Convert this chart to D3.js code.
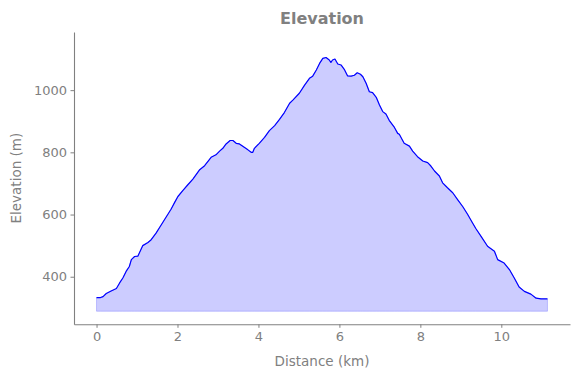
<!DOCTYPE html>
<html>
<head>
<meta charset="utf-8">
<script src="https://cdn.jsdelivr.net/npm/d3@7"></script>
<style>
  html, body { margin: 0; padding: 0; background: #fff; }
  svg { display: block; }
  text { font-family: "DejaVu Sans", sans-serif; }
</style>
</head>
<body>
<svg id="chart" width="580" height="378"></svg>
<script>
const distances = [0.00,0.10,0.16,0.24,0.36,0.49,0.57,0.65,0.73,0.81,0.86,0.94,1.02,1.14,1.27,1.35,1.47,1.60,1.72,1.84,1.93,2.01,2.13,2.25,2.38,2.54,2.67,2.83,2.95,3.04,3.12,3.20,3.30,3.37,3.45,3.53,3.65,3.74,3.82,3.86,3.90,4.02,4.15,4.27,4.40,4.52,4.64,4.77,4.85,5.01,5.14,5.26,5.34,5.43,5.51,5.59,5.67,5.75,5.79,5.83,5.89,5.96,6.04,6.12,6.20,6.29,6.37,6.44,6.52,6.58,6.66,6.74,6.82,6.91,6.99,7.07,7.15,7.23,7.36,7.44,7.48,7.60,7.73,7.81,7.93,8.06,8.18,8.26,8.35,8.47,8.55,8.67,8.80,8.92,9.05,9.17,9.29,9.37,9.50,9.66,9.83,9.91,10.07,10.20,10.32,10.44,10.57,10.73,10.86,10.98,11.14];
const elevations = [333,333,336,346,354,362,380,396,417,433,455,465,466,500,510,519,540,567,592,617,639,658,677,695,714,743,757,784,792,804,813,827,838,838,829,827,816,808,800,800,813,829,848,870,886,906,928,958,968,990,1016,1038,1045,1065,1086,1102,1105,1097,1089,1097,1100,1084,1081,1067,1046,1045,1048,1056,1051,1043,1022,995,992,977,952,931,923,903,880,861,858,829,820,804,786,772,767,756,740,724,702,686,670,648,625,600,573,555,530,498,482,455,444,423,396,367,353,344,331,329,329];
const fillBase = 289;
const xTicks = [0, 2, 4, 6, 8, 10];
const yTicks = [400, 600, 800, 1000];
const titleText = "Elevation";
const xLabel = "Distance (km)";
const yLabel = "Elevation (m)";

const data = distances.map((d, i) => ({ d, e: elevations[i] }));

const mLeft = 74, mRight = 570, mTop = 32, mBottom = 324.3;
const svg = d3.select("#chart");

const x = d3.scaleLinear().domain([-0.557, 11.697]).range([mLeft, mRight]);
const y = d3.scaleLinear().domain([247, 1187]).range([mBottom, mTop]);

const area = d3.area().x(p => x(p.d)).y0(y(fillBase)).y1(p => y(p.e));
const line = d3.line().x(p => x(p.d)).y(p => y(p.e));

svg.append("path").datum(data)
  .attr("d", area)
  .attr("fill", "rgba(0,0,255,0.2)")
  .attr("stroke", "rgba(0,0,255,0.2)")
  .attr("stroke-width", 1);

svg.append("path").datum(data)
  .attr("d", line)
  .attr("fill", "none")
  .attr("stroke", "#0000ff")
  .attr("stroke-width", 1.2)
  .attr("stroke-linejoin", "round");

const axisColor = "#808080";

const xAxis = svg.append("g")
  .attr("transform", `translate(0,${mBottom})`)
  .call(d3.axisBottom(x).tickValues(xTicks).tickFormat(d3.format("d")).tickSize(3.5).tickPadding(3.5).tickSizeOuter(0));
const yAxis = svg.append("g")
  .attr("transform", `translate(${mLeft},0)`)
  .call(d3.axisLeft(y).tickValues(yTicks).tickFormat(d3.format("d")).tickSize(3.5).tickPadding(3.5).tickSizeOuter(0));

[xAxis, yAxis].forEach(g => {
  g.select(".domain").attr("stroke", axisColor).attr("stroke-width", 1.1);
  g.selectAll(".tick line").attr("stroke", axisColor).attr("stroke-width", 1);
  g.selectAll(".tick text").attr("fill", axisColor).style("font-size", "13px")
    .style("font-family", "'DejaVu Sans', sans-serif");
});
xAxis.selectAll(".tick text").attr("dy", "0.71em");

svg.append("text")
  .attr("x", (mLeft + mRight) / 2).attr("y", 23.5)
  .attr("text-anchor", "middle")
  .attr("fill", axisColor)
  .style("font-size", "16px").style("font-weight", "bold")
  .text(titleText);

svg.append("text")
  .attr("x", (mLeft + mRight) / 2).attr("y", 366)
  .attr("text-anchor", "middle")
  .attr("fill", axisColor)
  .style("font-size", "13.5px")
  .text(xLabel);

svg.append("text")
  .attr("transform", `translate(20.5,${(mTop + mBottom) / 2}) rotate(-90)`)
  .attr("text-anchor", "middle")
  .attr("fill", axisColor)
  .style("font-size", "13.5px")
  .text(yLabel);
</script>
</body>
</html>
